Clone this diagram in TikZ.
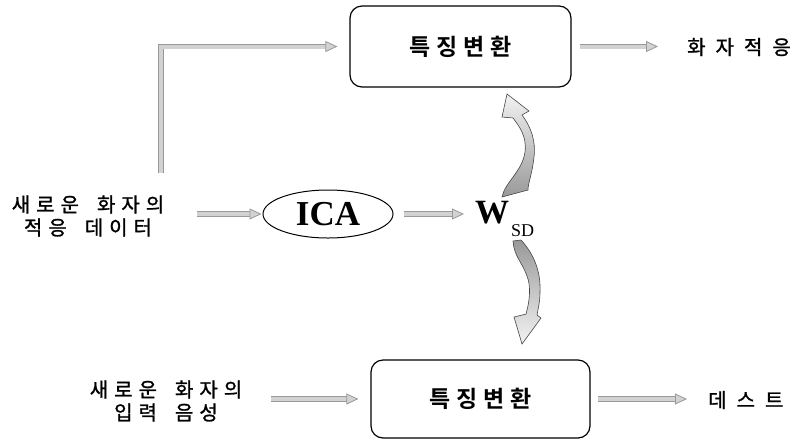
\documentclass[tikz,border=0pt]{standalone}
\usepackage{fontspec}
\newfontfamily\kr[FakeBold=1.2]{Noto Sans CJK KR}
\newfontfamily\krb{Noto Sans CJK KR Bold}
\newfontfamily\tms{Liberation Serif}
\usetikzlibrary{arrows.meta,shapes.geometric}
\newcommand{\kgap}{\hspace{6pt}}
\newcommand{\kwide}{\hspace{10pt}}
\newcommand{\kspc}{\hspace{18pt}}
\begin{document}
\begin{tikzpicture}[x=1pt,y=-1pt,
  box/.style={draw, line width=1.2pt, rounded corners=12pt, inner sep=0,
    font=\krb\fontsize{23}{25}\selectfont},
  lbl/.style={font=\kr\fontsize{20}{23}\selectfont, align=center, inner sep=0},
  rlbl/.style={font=\kr\fontsize{20}{22}\selectfont, inner sep=0},
  blk/.style={draw=gray!80, line width=0.8pt, double=gray!35, double distance=4pt,
    line join=miter, -{Triangle[length=12pt,width=11pt,fill=gray!35]}},
  curv/.style={draw=gray!55!black, line width=0.6pt}
]
\useasboundingbox (0,0) rectangle (800,440);

% boxes
\node[box, minimum width=221pt, minimum height=81pt] (tb) at (460.5,46.5)
  {특\kgap 징\kgap 변\kgap 환};
\node[box, minimum width=219pt, minimum height=78pt] (bb) at (480.5,399)
  {특\kgap 징\kgap 변\kgap 환};

% labels
\node[rlbl, anchor=west] (ad) at (687,47) {화\kwide 자\kwide 적\kwide 응};
\node[rlbl, anchor=west] (te) at (708,400) {데\kwide 스\kwide 트};
\node[lbl] (nd) at (88,216) {새\kgap 로\kgap 운\kspc 화\kgap 자\kgap 의\\적\kgap 응\kspc 데\kgap 이\kgap 터};
\node[lbl] (ni) at (166,401) {새\kgap 로\kgap 운\kspc 화\kgap 자\kgap 의\\입\kgap 력\kspc 음\kgap 성};

% ICA and W_SD
\node[ellipse, draw, line width=1pt, minimum width=130pt, minimum height=48pt, inner sep=0,
  font=\tms\bfseries\fontsize{35}{35}\selectfont] (ica) at (328,214) {ICA};
\node[inner sep=0, anchor=base west, font=\tms\bfseries\fontsize{34}{34}\selectfont] (w) at (475,223) {W};
\node[inner sep=0, anchor=base west, font=\tms\fontsize{18}{18}\selectfont] (sd) at (511,236) {SD};

% straight block arrows
\coordinate (ls) at (161,173);
\draw[blk, shorten >=12pt] (ls) |- (tb.west);
\draw[blk, shorten <=8pt, shorten >=29pt] (tb.east) -- (tb.east -| ad.west);
\draw[blk, shorten <=33pt, shorten >=1pt] (nd.east |- ica.west) -- (ica.west);
\draw[blk, shorten <=10pt, shorten >=11pt] (ica.east) -- (ica.east -| w.west);
\draw[blk, shorten <=29pt, shorten >=12pt] (ni.east |- bb.west) -- (bb.west);
\draw[blk, shorten <=7pt, shorten >=21pt] (bb.east) -- (bb.east -| te.west);

% curved arrows (W_SD to the two boxes)
\shade[curv, top color=gray!10, middle color=gray!22, bottom color=gray!80]
  (502,197) .. controls (505,182) and (522,172) .. (525,152)
  .. controls (527,136) and (519,126) .. (513,118)
  -- (502,117) -- (507,94) -- (529,111) -- (522,115)
  .. controls (531,127) and (536,141) .. (534,157)
  .. controls (532,175) and (528,183) .. (528,190) -- cycle;
\shade[curv, top color=gray!80, middle color=gray!22, bottom color=gray!10]
  (513,241) -- (521,240)
  .. controls (534,254) and (541,272) .. (540,292)
  .. controls (540,302) and (538,309) .. (537,315)
  -- (541,318) -- (522,344) -- (514,317) -- (526,314)
  .. controls (530,300) and (531,286) .. (527,276)
  .. controls (522,262) and (514,256) .. (513,241) -- cycle;
\end{tikzpicture}
\end{document}
